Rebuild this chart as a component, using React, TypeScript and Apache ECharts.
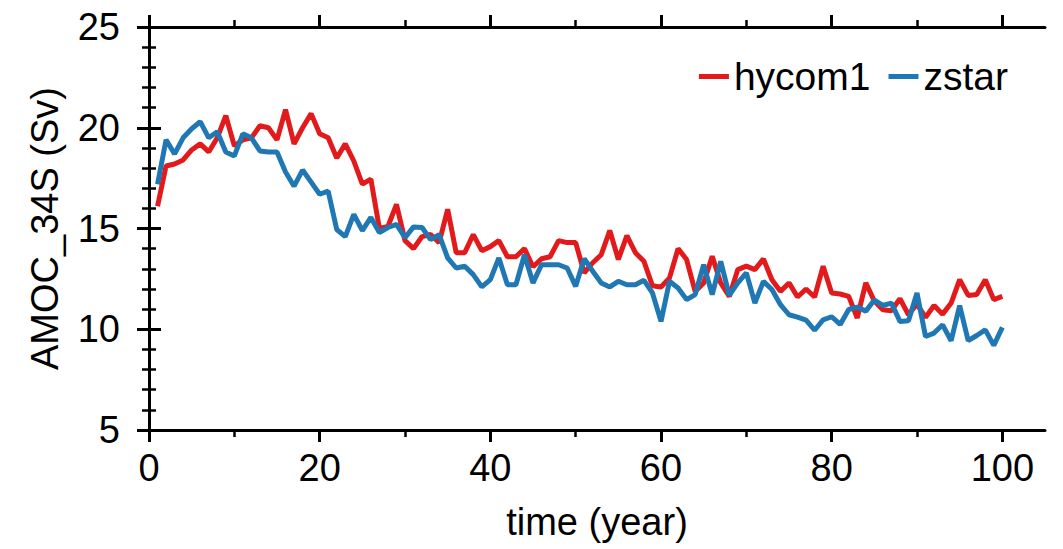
import React, { useEffect, useRef } from "react";
import * as echarts from "echarts";

const years: number[] = Array.from({ length: 100 }, (_, i) => i + 1);

const hycom1: number[] = [
  16.1, 18.1, 18.2, 18.4, 18.9, 19.2, 18.8, 19.5, 20.6, 19.1,
  19.4, 19.5, 20.1, 20.0, 19.4, 20.9, 19.2, 20.0, 20.7, 19.7,
  19.5, 18.5, 19.2, 18.35, 17.2, 17.45, 15.0, 15.1, 16.2, 14.4,
  14.0, 14.6, 14.7, 14.3, 15.95, 13.8, 13.8, 14.7, 13.9, 14.1,
  14.4, 13.6, 13.6, 14.0, 13.1, 13.5, 13.6, 14.4, 14.3, 14.3,
  12.8, 13.3, 13.7, 14.9, 13.46, 14.65, 13.8, 13.37, 12.16, 12.1,
  12.55, 14.0, 13.46, 11.88, 12.3, 13.62, 12.3, 11.63, 12.96, 13.13,
  12.96, 13.49, 12.46, 11.88, 12.3, 11.6, 12.0, 11.6, 13.13, 11.8,
  11.75, 11.63, 10.56, 12.3, 11.4, 10.97, 10.92, 11.52, 10.72, 11.25,
  10.59, 11.18, 10.75, 11.3, 12.46, 11.68, 11.72, 12.46, 11.47, 11.63,
];

const zstar: number[] = [
  17.2, 19.4, 18.7, 19.5, 19.95, 20.3, 19.5, 19.8, 18.8, 18.6,
  19.7, 19.5, 18.85, 18.8, 18.8, 17.8, 17.1, 17.9, 17.3, 16.7,
  16.85, 14.95, 14.6, 15.7, 14.9, 15.55, 14.8, 15.05, 15.2, 14.54,
  15.08, 15.05, 14.45, 14.7, 13.54, 13.04, 13.13, 12.71, 12.1, 12.46,
  13.54, 12.21, 12.21, 13.7, 12.3, 13.2, 13.2, 13.2, 13.04, 12.13,
  13.5, 12.88, 12.3, 12.1, 12.38, 12.21, 12.21, 12.43, 11.8, 10.39,
  12.38, 12.05, 11.47, 11.72, 13.2, 11.72, 13.37, 11.68, 12.3, 12.8,
  11.3, 12.38, 11.97, 11.22, 10.72, 10.6, 10.45, 9.95, 10.47, 10.62,
  10.24, 10.98, 11.1, 10.9, 11.45, 11.18, 11.3, 10.39, 10.42, 11.8,
  9.64, 9.81, 10.22, 9.43, 11.18, 9.43, 9.69, 9.97, 9.2, 10.09,
];

const xMajorTicks: number[] = [0, 20, 40, 60, 80, 100];
const xMinorTicks: number[] = [10, 30, 50, 70, 90];

const seriesNames = ["hycom1", "zstar"];
const seriesColors = ["#e31a1c", "#1f78b4"];

const FONT = "'Liberation Sans', Arial, Helvetica, sans-serif";

export default function App() {
  const ref = useRef<HTMLDivElement>(null);

  useEffect(() => {
    if (!ref.current) return;
    const chart = echarts.init(ref.current, undefined, { renderer: "svg" });

    const axisLine = { show: true, lineStyle: { color: "#000", width: 3 } };
    const xBase = { type: "value" as const, min: 0, max: 105, splitLine: { show: false }, gridIndex: 0 };
    const yBase = { type: "value" as const, min: 5, max: 25, interval: 5, splitLine: { show: false }, gridIndex: 0 };

    const option: any = {
      animation: false,
      backgroundColor: "#fff",
      textStyle: { fontFamily: FONT },
      grid: { left: 149, right: 18, top: 27, bottom: 119, containLabel: false },
      legend: {
        data: seriesNames,
        right: 50,
        top: 52,
        icon: "rect",
        itemWidth: 30,
        itemHeight: 5,
        itemGap: 18,
        textStyle: { fontSize: 39, color: "#000", fontFamily: FONT },
      },
      xAxis: [
        {
          ...xBase,
          position: "bottom",
          axisLine,
          axisTick: { show: true, length: 12, lineStyle: { width: 3, color: "#000" }, customValues: xMajorTicks },
          axisLabel: { show: true, fontSize: 38, color: "#000", margin: 19, fontFamily: FONT, customValues: xMajorTicks },
          name: "time (year)",
          nameLocation: "middle",
          nameGap: 73,
          nameTextStyle: { fontSize: 38, color: "#000", fontFamily: FONT },
        },
        {
          ...xBase,
          position: "bottom",
          axisLine: { show: false },
          axisTick: { show: true, length: 7, lineStyle: { width: 2.5, color: "#000" }, customValues: xMinorTicks },
          axisLabel: { show: false },
        },
        {
          ...xBase,
          position: "top",
          axisLine,
          axisTick: { show: true, length: 12, lineStyle: { width: 3, color: "#000" }, customValues: xMajorTicks },
          axisLabel: { show: false },
        },
        {
          ...xBase,
          position: "top",
          axisLine: { show: false },
          axisTick: { show: true, length: 7, lineStyle: { width: 2.5, color: "#000" }, customValues: xMinorTicks },
          axisLabel: { show: false },
        },
      ],
      yAxis: [
        {
          ...yBase,
          position: "left",
          axisLine,
          axisTick: { show: true, length: 12, lineStyle: { width: 3, color: "#000" } },
          minorTick: { show: true, splitNumber: 5, length: 7, lineStyle: { width: 2.5, color: "#000" } },
          axisLabel: { show: true, fontSize: 38, color: "#000", margin: 29, fontFamily: FONT },
          name: "AMOC_34S (Sv)",
          nameLocation: "middle",
          nameGap: 85,
          nameTextStyle: { fontSize: 38, color: "#000", fontFamily: FONT },
        },
        {
          ...yBase,
          position: "right",
          axisLine,
          axisTick: { show: true, length: 12, lineStyle: { width: 3, color: "#000" } },
          minorTick: { show: true, splitNumber: 5, length: 7, lineStyle: { width: 2.5, color: "#000" } },
          axisLabel: { show: false },
        },
      ],
      series: [
        {
          name: seriesNames[0],
          type: "line",
          xAxisIndex: 0,
          yAxisIndex: 0,
          data: years.map((yr, i) => [yr, hycom1[i]]),
          showSymbol: false,
          symbol: "none",
          color: seriesColors[0],
          lineStyle: { width: 5, color: seriesColors[0] },
        },
        {
          name: seriesNames[1],
          type: "line",
          xAxisIndex: 0,
          yAxisIndex: 0,
          data: years.map((yr, i) => [yr, zstar[i]]),
          showSymbol: false,
          symbol: "none",
          color: seriesColors[1],
          lineStyle: { width: 5, color: seriesColors[1] },
        },
      ],
    };

    chart.setOption(option);
    return () => chart.dispose();
  }, []);

  return (
    <div
      ref={ref}
      style={{ position: "fixed", left: 0, top: 0, width: 1063, height: 549, background: "#fff" }}
    />
  );
}
